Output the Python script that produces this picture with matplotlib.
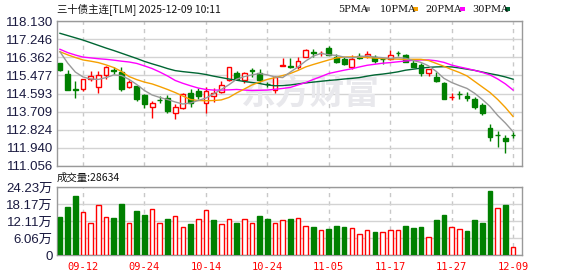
import matplotlib
matplotlib.use('Agg')
import matplotlib.pyplot as plt
from matplotlib.patches import Rectangle

# 三十债主连 日K, 2025-09-09 .. 2025-12-09
dates = ['09-09', '09-10', '09-11', '09-12', '09-15', '09-16', '09-17', '09-18', '09-19', '09-22',
         '09-23', '09-24', '09-25', '09-26', '09-29', '09-30', '10-09', '10-10', '10-13', '10-14',
         '10-15', '10-16', '10-17', '10-20', '10-21', '10-22', '10-23', '10-24', '10-27', '10-28',
         '10-29', '10-30', '10-31', '11-03', '11-04', '11-05', '11-06', '11-07', '11-10', '11-11',
         '11-12', '11-13', '11-14', '11-17', '11-18', '11-19', '11-20', '11-21', '11-24', '11-25',
         '11-26', '11-27', '11-28', '12-01', '12-02', '12-03', '12-04', '12-05', '12-08', '12-09']

opens = [116.07, 115.54, 114.80, 114.83, 115.30, 114.92, 115.48, 115.73, 115.64, 114.92,
         114.96, 114.52, 113.92, 114.29, 114.37, 113.66, 113.87, 114.63, 114.71, 114.11,
         114.47, 114.68, 115.25, 115.61, 115.25, 115.72, 115.58, 115.07, 114.76, 115.93,
         115.93, 115.87, 116.39, 116.60, 116.55, 116.80, 116.36, 116.28, 115.87, 116.44,
         116.44, 116.39, 116.27, 116.26, 116.56, 116.47, 116.10, 115.98, 115.61, 115.41,
         115.12, 114.43, 114.56, 114.49, 114.32, 114.03, 112.89, 112.56, 112.44, 112.58]
highs = [116.09, 115.74, 115.20, 115.31, 115.69, 115.69, 115.93, 115.87, 115.87, 115.25,
         114.98, 114.55, 114.24, 114.47, 114.50, 114.10, 114.63, 114.80, 114.85, 114.92,
         114.85, 115.20, 115.90, 115.71, 115.66, 115.85, 115.77, 115.17, 115.45, 116.32,
         116.34, 116.36, 116.75, 116.75, 116.65, 116.93, 116.50, 116.36, 116.47, 116.55,
         116.68, 116.47, 116.31, 116.72, 116.66, 116.50, 116.28, 116.10, 115.79, 115.66,
         115.17, 114.60, 114.73, 114.68, 114.41, 114.11, 113.10, 112.76, 112.57, 112.73]
lows = [115.69, 114.74, 114.39, 114.73, 115.20, 114.60, 115.29, 115.54, 114.73, 114.86,
        114.24, 113.87, 113.41, 114.11, 113.66, 113.36, 113.85, 113.95, 114.31, 113.66,
        114.19, 114.60, 115.22, 115.27, 115.09, 115.41, 115.17, 114.93, 114.63, 115.92,
        115.86, 115.77, 116.36, 116.39, 116.42, 116.47, 116.07, 116.00, 115.77, 116.26,
        116.31, 116.07, 116.02, 116.23, 116.44, 116.12, 115.87, 115.46, 115.46, 115.17,
        114.32, 114.28, 114.32, 114.23, 113.82, 113.54, 112.29, 111.99, 111.70, 112.41]
closes = [115.74, 114.76, 114.74, 115.29, 115.45, 115.48, 115.87, 115.69, 114.83, 115.15,
          114.34, 114.10, 114.13, 114.28, 113.74, 113.92, 114.57, 114.11, 114.47, 114.73,
          114.60, 114.99, 115.87, 115.29, 115.58, 115.71, 115.25, 115.06, 115.38, 115.96,
          115.88, 116.19, 116.72, 116.55, 116.57, 116.49, 116.15, 116.02, 116.26, 116.34,
          116.50, 116.19, 116.26, 116.47, 116.55, 116.15, 115.90, 115.61, 115.77, 115.20,
          114.34, 114.44, 114.55, 114.39, 113.95, 113.66, 112.48, 112.55, 112.29, 112.57]

# 成交量 (万手)
volumes = [13.59, 17.13, 20.93, 15.15, 11.24, 17.99, 13.37, 13.13, 18.09, 11.24,
           15.61, 14.19, 16.32, 11.24, 12.77, 13.73, 9.83, 11.00, 12.77, 15.96,
           12.42, 10.89, 12.77, 11.24, 12.77, 11.24, 13.84, 12.77, 11.24, 12.31,
           12.77, 13.13, 10.18, 9.93, 8.76, 9.22, 10.29, 9.93, 9.58, 7.34,
           8.76, 8.16, 8.16, 8.76, 8.76, 10.29, 9.58, 9.93, 6.39, 12.42,
           14.19, 9.93, 9.22, 8.51, 12.42, 11.35, 22.70, 16.67, 17.74, 2.86]

ma5 = [116.63, 116.08, 115.64, 115.40, 115.30, 115.28, 115.37, 115.50, 115.47, 115.28,
       115.03, 114.74, 114.52, 114.40, 114.30, 114.18, 114.08, 114.13, 114.25, 114.37,
       114.57, 114.79, 115.02, 115.29, 115.42, 115.50, 115.57, 115.50, 115.40, 115.37,
       115.64, 115.89, 116.18, 116.42, 116.55, 116.48, 116.45, 116.37, 116.33, 116.39,
       116.42, 116.37, 116.34, 116.31, 116.35, 116.31, 116.20, 116.11, 115.94, 115.67,
       115.33, 115.13, 114.98, 114.84, 114.60, 114.30, 113.96, 113.52, 113.15, 112.73]
ma10 = [116.63, 116.48, 116.35, 116.23, 116.17, 116.10, 115.99, 115.86, 115.67, 115.42,
        115.27, 115.15, 115.06, 114.93, 114.79, 114.64, 114.47, 114.30, 114.25, 114.24,
        114.25, 114.28, 114.40, 114.62, 114.81, 115.01, 115.15, 115.28, 115.37, 115.47,
        115.57, 115.72, 115.89, 116.01, 116.12, 116.23, 116.33, 116.37, 116.38, 116.37,
        116.35, 116.32, 116.30, 116.28, 116.27, 116.26, 116.26, 116.26, 116.20, 116.06,
        115.92, 115.76, 115.62, 115.45, 115.18, 114.91, 114.64, 114.30, 113.91, 113.47]
ma20 = [116.75, 116.59, 116.47, 116.37, 116.33, 116.29, 116.26, 116.22, 116.17, 116.13,
        116.06, 115.94, 115.81, 115.64, 115.45, 115.23, 115.09, 114.97, 114.86, 114.79,
        114.76, 114.76, 114.77, 114.79, 114.76, 114.74, 114.75, 114.76, 114.80, 114.84,
        114.89, 115.01, 115.13, 115.28, 115.42, 115.57, 115.65, 115.73, 115.80, 115.89,
        115.97, 116.02, 116.07, 116.10, 116.14, 116.18, 116.21, 116.23, 116.23, 116.19,
        116.11, 115.98, 115.89, 115.81, 115.72, 115.62, 115.50, 115.30, 115.06, 114.76]
ma30 = [117.53, 117.42, 117.31, 117.20, 117.07, 116.94, 116.81, 116.69, 116.56, 116.43,
        116.30, 116.16, 116.04, 115.93, 115.81, 115.71, 115.66, 115.62, 115.58, 115.52,
        115.44, 115.37, 115.30, 115.24, 115.18, 115.13, 115.08, 115.01, 114.97, 114.98,
        115.01, 115.06, 115.11, 115.15, 115.19, 115.23, 115.26, 115.30, 115.33, 115.37,
        115.44, 115.50, 115.54, 115.59, 115.65, 115.73, 115.78, 115.83, 115.87, 115.89,
        115.90, 115.89, 115.84, 115.78, 115.72, 115.64, 115.56, 115.49, 115.40, 115.29]

price_ticks = [111.056, 111.940, 112.824, 113.709, 114.593, 115.477, 116.362, 117.246, 118.130]
vol_ticks = [0, 6.06, 12.11, 18.17, 24.23]
date_labels = ['09-12', '09-24', '10-14', '10-24', '11-05', '11-17', '11-27', '12-09']
last_volume = 28634

RED = '#ff0000'
GREEN = '#008000'
GRID = '#d3d3d3'
FRAME = '#999999'
LABEL = '#1a1a40'

W, H = 578, 276
fig = plt.figure(figsize=(W / 100, H / 100), dpi=100)


def box(l, t, r, b):
    return [l / W, 1 - b / H, (r - l) / W, (b - t) / H]


ax = fig.add_axes(box(57, 21, 522, 166))
axv = fig.add_axes(box(57, 187, 522, 255))

x = list(range(len(closes)))
tick_pos = [dates.index(d) for d in date_labels]

for a in (ax, axv):
    a.set_xlim(-0.385, 60.16)
    for s in a.spines.values():
        s.set_color(FRAME)
        s.set_linewidth(1)
    for p in tick_pos:
        a.axvline(p, color='#c8c8c8', lw=1, ls=(0, (3, 3)), zorder=0)
    a.tick_params(length=0)

# K线
for i in x:
    o, h, l, c = opens[i], highs[i], lows[i], closes[i]
    up = c > o
    col = RED if up else GREEN
    ax.vlines(i, l, h, color=col, lw=1, zorder=2)
    bottom = min(o, c)
    height = max(abs(c - o), 0.012)
    ax.bar(i, height, bottom=bottom, width=0.62, facecolor='white' if up else col,
           edgecolor=col, lw=1, zorder=3)

ax.plot(x, ma30, color='#006633', lw=1, zorder=4)
ax.plot(x, ma20, color='#ff00ff', lw=1, zorder=4)
ax.plot(x, ma10, color='#f5a000', lw=1, zorder=4)
ax.plot(x, ma5, color='#999999', lw=1, zorder=4)

ax.set_ylim(price_ticks[0], price_ticks[-1])
ax.set_yticks(price_ticks)
ax.set_yticklabels(['%.3f' % v for v in price_ticks])
ax.grid(axis='y', color=GRID, lw=1)
ax.set_axisbelow(True)
ax.set_xticks([])
ax.tick_params(axis='y', labelsize=9.5, labelcolor=LABEL, pad=3)
for t in ax.get_yticklabels():
    t.set_family(['Liberation Sans', 'DejaVu Sans'])

# 水印
ax.text(0.545, 0.50, '东方财富', transform=ax.transAxes, ha='center', va='center',
        fontsize=25, fontweight='bold', color='#e8e8ec', family=['Noto Sans CJK SC'], zorder=1)

# 成交量
for i in x:
    prev = closes[i - 1] if i > 0 else opens[i]
    up = closes[i] >= prev
    col = RED if up else GREEN
    axv.bar(i, volumes[i], width=0.6, facecolor='white' if up else col,
            edgecolor=col, lw=1, zorder=3)

axv.set_ylim(0, vol_ticks[-1])
axv.set_yticks(vol_ticks)
axv.set_yticklabels(['0'] + ['%.2f万' % v for v in vol_ticks[1:]])
axv.grid(axis='y', color=GRID, lw=1)
axv.set_axisbelow(True)
axv.set_xticks(tick_pos)
axv.set_xticklabels(date_labels)
axv.tick_params(axis='y', labelsize=9.5, labelcolor=LABEL, pad=3)
axv.tick_params(axis='x', labelsize=7.5, labelcolor=RED, pad=5)
for t in axv.get_yticklabels():
    t.set_family(['Liberation Sans', 'Noto Sans CJK SC'])
for t in axv.get_xticklabels():
    t.set_family(['DejaVu Sans Mono'])

# 标题与图例
fig.text(57 / W, 1 - 9 / H, '三十债主连[TLM] 2025-12-09 10:11', ha='left', va='center',
         fontsize=7.5, color='#111111', family=['Noto Sans CJK SC', 'DejaVu Sans'])
fig.text(57 / W, 1 - 178 / H, '成交量:%d' % last_volume, ha='left', va='center',
         fontsize=7.5, color='#111111', family=['Noto Sans CJK SC', 'DejaVu Sans'])

# 图例: (名称, 颜色, 文字左端px, 色块左端px)
legend = [('5PMA', '#a0a0a0', 338, 365), ('10PMA', '#f5a000', 380, 413),
          ('20PMA', '#ff00ff', 425, 460), ('30PMA', '#006633', 472, 505)]
for name, col, px, mx in legend:
    fig.text(px / W, 1 - 9 / H, name, ha='left', va='center', fontsize=7,
             color='#111111', family=['DejaVu Serif'])
    fig.patches.append(Rectangle((mx / W, 1 - 10.5 / H), 5 / W, 3 / H,
                                 transform=fig.transFigure, facecolor=col, edgecolor='none'))

fig.savefig('out.png', dpi=100)
